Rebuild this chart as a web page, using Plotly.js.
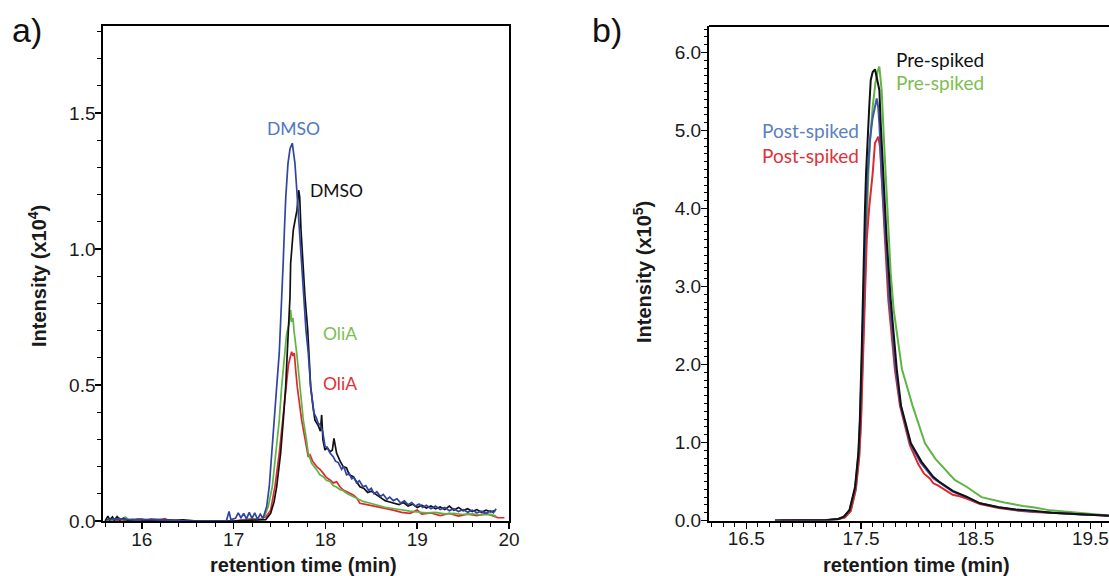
<!DOCTYPE html>
<html>
<head>
<meta charset="utf-8">
<script src="https://cdn.plot.ly/plotly-3.0.1.min.js"></script>
<style>html,body{margin:0;padding:0;background:#fff;}#chart{width:1109px;height:576px;}</style>
</head>
<body>
<div id="chart"></div>
<script>
// ---------- Panel a: intensity (x10^4) vs retention time (min) ----------
const aBlueT = [15.62,15.75,15.9,16.1,16.3,16.5,16.7,16.92,16.95,16.97,17.02,17.05,17.08,17.11,17.14,17.17,17.2,17.23,17.26,17.29,17.32,17.34,17.36,17.388,17.418,17.443,17.469,17.497,17.512,17.528,17.54,17.553,17.568,17.592,17.615,17.639,17.668,17.693,17.715,17.741,17.766,17.788,17.813,17.839,17.875,17.9,17.92,17.94,17.97,17.995,18.02,18.05,18.085,18.11,18.14,18.177,18.2,18.23,18.26,18.286,18.31,18.34,18.37,18.41,18.44,18.47,18.5,18.53,18.56,18.6,18.63,18.67,18.7,18.74,18.78,18.82,18.86,18.9,18.94,18.98,19.02,19.06,19.1,19.15,19.2,19.25,19.3,19.35,19.4,19.45,19.5,19.55,19.6,19.65,19.7,19.75,19.8,19.83,19.86];
const aBlueY = [0.005,0.008,0.004,0.006,0.003,0,0,0,0.035,0.005,0.01,0.03,0.012,0.028,0.008,0.032,0.01,0.03,0.006,0.025,0.01,0.03,0.053,0.126,0.25,0.371,0.494,0.618,0.72,0.85,0.95,1.07,1.19,1.315,1.37,1.389,1.315,1.192,1.07,0.949,0.825,0.702,0.618,0.494,0.397,0.38,0.36,0.355,0.33,0.275,0.27,0.25,0.236,0.22,0.215,0.19,0.2,0.17,0.175,0.155,0.16,0.14,0.148,0.126,0.13,0.112,0.12,0.1,0.108,0.09,0.098,0.08,0.088,0.075,0.082,0.066,0.074,0.06,0.068,0.055,0.062,0.05,0.058,0.045,0.055,0.042,0.05,0.038,0.045,0.035,0.042,0.032,0.04,0.03,0.036,0.028,0.038,0.03,0.045];

const aBlackT = [15.6,15.63,15.65,15.68,15.7,15.73,15.76,15.8,15.85,15.95,16.05,16.2,16.35,16.45,16.6,17.0,17.2,17.35,17.403,17.44,17.469,17.512,17.541,17.567,17.584,17.606,17.614,17.621,17.65,17.668,17.69,17.709,17.72,17.734,17.752,17.777,17.807,17.821,17.839,17.865,17.886,17.92,17.945,17.959,17.973,17.995,18.02,18.05,18.075,18.093,18.11,18.122,18.16,18.194,18.23,18.26,18.303,18.34,18.376,18.42,18.46,18.5,18.558,18.6,18.65,18.7,18.739,18.8,18.85,18.9,18.95,19.0,19.05,19.1,19.15,19.2,19.25,19.3,19.35,19.4,19.45,19.5,19.55,19.6,19.65,19.7,19.75,19.8,19.85];
const aBlackY = [0,0.018,0.004,0.015,0.003,0.016,0.004,0.01,0.002,0.006,0.002,0.005,0.002,0.004,0,0,0.003,0.005,0.028,0.07,0.126,0.249,0.371,0.494,0.617,0.739,0.825,0.947,1.07,1.103,1.143,1.217,1.19,1.07,0.947,0.825,0.702,0.617,0.494,0.42,0.371,0.352,0.33,0.39,0.298,0.261,0.27,0.255,0.26,0.304,0.26,0.249,0.22,0.2,0.195,0.17,0.163,0.145,0.126,0.12,0.105,0.11,0.096,0.088,0.075,0.07,0.065,0.06,0.068,0.055,0.062,0.05,0.058,0.048,0.055,0.045,0.052,0.042,0.055,0.04,0.05,0.038,0.045,0.035,0.042,0.032,0.04,0.034,0.038];

const aGreenT = [15.6,15.7,15.75,15.78,15.82,15.86,15.9,15.95,16.1,16.3,16.5,17.0,17.2,17.3,17.34,17.377,17.421,17.461,17.497,17.523,17.559,17.576,17.592,17.608,17.621,17.632,17.647,17.657,17.687,17.723,17.759,17.788,17.813,17.85,17.88,17.905,17.94,17.977,18.01,18.05,18.085,18.12,18.16,18.19,18.24,18.3,18.35,18.41,18.48,18.56,18.65,18.74,18.83,18.92,19.0,19.1,19.2,19.3,19.4,19.5,19.6,19.7,19.8,19.86];
const aGreenY = [0,0.004,0.012,0.003,0.014,0.004,0.008,0.002,0.004,0.002,0,0,0.004,0.008,0.02,0.053,0.126,0.249,0.371,0.494,0.617,0.684,0.71,0.732,0.776,0.732,0.746,0.702,0.617,0.494,0.371,0.31,0.249,0.212,0.2,0.188,0.17,0.163,0.15,0.145,0.13,0.125,0.115,0.112,0.1,0.09,0.08,0.072,0.066,0.058,0.05,0.046,0.04,0.036,0.033,0.03,0.032,0.026,0.028,0.024,0.026,0.022,0.024,0.018];

const aRedT = [15.6,15.9,16.0,16.05,16.1,16.2,16.25,16.3,16.45,17.0,17.1,17.2,17.28,17.35,17.403,17.45,17.497,17.534,17.57,17.597,17.615,17.632,17.647,17.661,17.676,17.693,17.741,17.777,17.813,17.832,17.86,17.905,17.94,17.977,18.01,18.05,18.085,18.122,18.16,18.194,18.25,18.303,18.34,18.376,18.45,18.558,18.65,18.739,18.83,18.921,19.0,19.05,19.15,19.25,19.35,19.45,19.55,19.65,19.75,19.82,19.88,19.95];
const aRedY = [0,0.003,0.008,0.002,0.007,0.004,0.009,0.002,0,0,0.004,0.008,0.006,0.015,0.04,0.126,0.249,0.371,0.494,0.574,0.6,0.622,0.607,0.617,0.555,0.494,0.371,0.298,0.236,0.243,0.22,0.2,0.19,0.175,0.16,0.151,0.14,0.144,0.125,0.114,0.105,0.096,0.085,0.065,0.06,0.053,0.045,0.04,0.032,0.028,0.04,0.025,0.03,0.02,0.028,0.018,0.025,0.02,0.028,0.02,0.012,0.012];

// ---------- Panel b: intensity (x10^5) vs retention time (min) ----------
const bBlackT = [16.75,17.0,17.2,17.3,17.35,17.4,17.448,17.477,17.49,17.505,17.515,17.52,17.526,17.535,17.544,17.555,17.572,17.585,17.602,17.622,17.64,17.66,17.672,17.694,17.712,17.724,17.758,17.812,17.849,17.935,18.027,18.13,18.18,18.3,18.42,18.537,18.7,18.85,19.0,19.157,19.29,19.45,19.58,19.66];
const bBlackY = [0,0,0.005,0.02,0.05,0.135,0.43,0.86,1.29,2.1,2.83,3.17,3.6,4.02,4.45,4.878,5.305,5.647,5.75,5.785,5.65,5.52,5.09,4.45,4.0,3.6,2.85,1.94,1.47,0.99,0.755,0.56,0.5,0.38,0.305,0.22,0.17,0.14,0.125,0.1,0.09,0.075,0.07,0.06];

const bGreenT = [16.75,17.2,17.3,17.36,17.41,17.455,17.485,17.5,17.515,17.529,17.535,17.544,17.553,17.564,17.58,17.602,17.625,17.645,17.66,17.67,17.68,17.7,17.73,17.759,17.785,17.857,17.905,17.95,18.058,18.149,18.317,18.42,18.55,18.75,18.912,19.0,19.15,19.29,19.45,19.58,19.66];
const bGreenY = [0,0.004,0.015,0.04,0.12,0.4,0.85,1.3,2.1,2.83,3.2,3.6,4.02,4.45,4.88,5.305,5.6,5.76,5.82,5.7,5.52,4.88,4.02,3.17,2.7,1.94,1.7,1.47,0.99,0.79,0.52,0.433,0.3,0.23,0.187,0.17,0.13,0.113,0.09,0.08,0.065];

const bBlueT = [16.75,17.2,17.3,17.35,17.4,17.45,17.478,17.492,17.508,17.52,17.527,17.535,17.546,17.558,17.578,17.6,17.62,17.637,17.65,17.66,17.68,17.718,17.747,17.8,17.845,17.93,18.02,18.13,18.3,18.42,18.537,18.7,18.85,19.0,19.15,19.29,19.45,19.58,19.66];
const bBlueY = [0,0.004,0.018,0.045,0.13,0.42,0.85,1.29,2.1,2.83,3.2,3.6,4.02,4.45,4.88,5.15,5.32,5.41,5.3,5.09,4.45,3.6,2.83,1.98,1.47,0.99,0.74,0.54,0.37,0.3,0.22,0.17,0.135,0.115,0.1,0.088,0.075,0.07,0.06];

const bRedT = [16.8,16.9,17.0,17.1,17.2,17.3,17.36,17.41,17.455,17.485,17.5,17.517,17.532,17.541,17.55,17.572,17.602,17.622,17.651,17.666,17.68,17.709,17.738,17.795,17.84,17.925,18.0,18.05,18.1,18.13,18.17,18.2,18.25,18.3,18.36,18.42,18.537,18.7,18.85,19.0,19.15,19.29,19.45,19.58,19.66];
const bRedY = [0.004,0,0.004,0,0.004,0.015,0.04,0.12,0.4,0.82,1.25,2.1,2.83,3.2,3.6,4.02,4.45,4.84,4.92,4.79,4.45,3.6,2.83,1.94,1.47,0.97,0.72,0.6,0.54,0.477,0.45,0.42,0.37,0.33,0.31,0.28,0.21,0.16,0.13,0.11,0.1,0.09,0.075,0.07,0.06];

// Tick labels (first value and step drive the linear tick layout)
const aXTicks = [16, 17, 18, 19, 20];
const aYTicks = [0.0, 0.5, 1.0, 1.5];
const bXTicks = [16.5, 17.5, 18.5, 19.5];
const bYTicks = [0, 1, 2, 3, 4, 5, 6];

// Colours
const C = {
  aBlue: '#2f45a0', aBlueLbl: '#4f78bf',
  blue: '#3c57a6', blueLbl: '#5a80bf',
  black: '#111111',
  green: '#5db544', greenLbl: '#7dbd4f',
  red: '#e2262e', redLbl: '#e0313a'
};

function tr(x, y, color, w, xa, ya) {
  return {x: x, y: y, type: 'scatter', mode: 'lines', xaxis: xa, yaxis: ya,
          line: {color: color, width: w}, hoverinfo: 'skip', showlegend: false};
}

const data = [
  tr(aRedT, aRedY, C.red, 1.7, 'x', 'y'),
  tr(aGreenT, aGreenY, C.green, 1.7, 'x', 'y'),
  tr(aBlackT, aBlackY, C.black, 1.7, 'x', 'y'),
  tr(aBlueT, aBlueY, C.aBlue, 1.7, 'x', 'y'),
  tr(bGreenT, bGreenY, C.green, 2, 'x2', 'y2'),
  tr(bRedT, bRedY, C.red, 2, 'x2', 'y2'),
  tr(bBlueT, bBlueY, C.blue, 2, 'x2', 'y2'),
  tr(bBlackT, bBlackY, C.black, 2, 'x2', 'y2')
];

const tickFont = {family: 'Liberation Sans, Arial, sans-serif', size: 19, color: '#1a1a1a'};
function axisBase(standoff) {
  return {showline: true, linewidth: 2, linecolor: '#000', showgrid: false, zeroline: false,
          ticks: 'outside', ticklen: 6, tickwidth: 1.5, tickcolor: '#000', tickfont: tickFont,
          tickmode: 'linear', ticklabeloverflow: 'allow', ticklabelstandoff: standoff, fixedrange: true};
}
function minorTicks(d, t0, len) {
  return {tickmode: 'linear', dtick: d, tick0: t0, ticks: 'outside', ticklen: len, tickwidth: 1, tickcolor: '#000', showgrid: false};
}

const W = 1109, H = 576;
const px = v => v / W, py = v => 1 - v / H;

const xaxis = Object.assign(axisBase(-6), {domain: [px(103.3), px(509)], range: [15.58, 20.0],
  tick0: aXTicks[0], dtick: aXTicks[1] - aXTicks[0], tickformat: 'd', mirror: true, anchor: 'y',
  minor: minorTicks(0.2, aXTicks[0], 4)});
const yaxis = Object.assign(axisBase(-4), {domain: [py(521), py(26)], range: [0, 1.82],
  tick0: aYTicks[0], dtick: aYTicks[1] - aYTicks[0], tickformat: '.1f', mirror: true, anchor: 'x',
  minor: minorTicks(0.1, aYTicks[0], 4)});
const xaxis2 = Object.assign(axisBase(-6), {domain: [px(709), 1], range: [16.175, 19.662],
  tick0: bXTicks[0], dtick: bXTicks[1] - bXTicks[0], tickformat: '.1f', anchor: 'y2',
  minor: minorTicks(0.1, bXTicks[0], 4)});
const yaxis2 = Object.assign(axisBase(-4), {domain: [py(520.5), py(26)], range: [0, 6.34],
  tick0: bYTicks[0], dtick: bYTicks[1] - bYTicks[0], tickformat: '.1f', anchor: 'x2',
  minor: minorTicks(0.1, bYTicks[0], 3)});

const lblFont = (c, s) => ({family: 'Lato, Open Sans, sans-serif', size: s, color: c});
function ann(text, x, y, font, extra) {
  return Object.assign({text: text, x: px(x), y: py(y), xref: 'paper', yref: 'paper',
    showarrow: false, font: font, xanchor: 'center', yanchor: 'middle'}, extra || {});
}
const titleFont = {family: 'Liberation Sans, Arial, sans-serif', size: 20, color: '#1a1a1a', weight: 'bold'};
const panelFont = {family: 'Liberation Sans, Arial, sans-serif', size: 34, color: '#111'};

const annotations = [
  ann('a)', 27, 30, panelFont),
  ann('b)', 607, 30, panelFont),
  ann('<b>Intensity (x10<sup>4</sup>)</b>', 37, 276, titleFont, {textangle: -90}),
  ann('<b>Intensity (x10<sup>5</sup>)</b>', 642, 272, titleFont, {textangle: -90}),
  ann('<b>retention time (min)</b>', 303, 565, titleFont),
  ann('<b>retention time (min)</b>', 916, 565, titleFont),
  ann('DMSO', 293, 128, lblFont(C.aBlueLbl, 17.5)),
  ann('DMSO', 336, 190, lblFont('#111', 17.5)),
  ann('OliA', 340, 333, lblFont(C.greenLbl, 17.5)),
  ann('OliA', 340, 383, lblFont(C.redLbl, 17.5)),
  ann('Pre-spiked', 940, 60, lblFont('#111', 19)),
  ann('Pre-spiked', 940, 82, lblFont(C.greenLbl, 19)),
  ann('Post-spiked', 810, 130, lblFont(C.blueLbl, 19)),
  ann('Post-spiked', 810, 155, lblFont(C.redLbl, 19))
];

const shapes = [
  {type: 'line', xref: 'x2 domain', yref: 'y2 domain', x0: 0, x1: 1, y0: 1, y1: 1,
   line: {color: '#000', width: 2}}
];

const layout = {
  width: W, height: H, margin: {l: 0, r: 0, t: 0, b: 0},
  paper_bgcolor: '#fff', plot_bgcolor: '#fff', showlegend: false,
  xaxis: xaxis, yaxis: yaxis, xaxis2: xaxis2, yaxis2: yaxis2,
  annotations: annotations, shapes: shapes
};

Plotly.newPlot('chart', data, layout, {staticPlot: true, displayModeBar: false});
</script>
</body>
</html>
